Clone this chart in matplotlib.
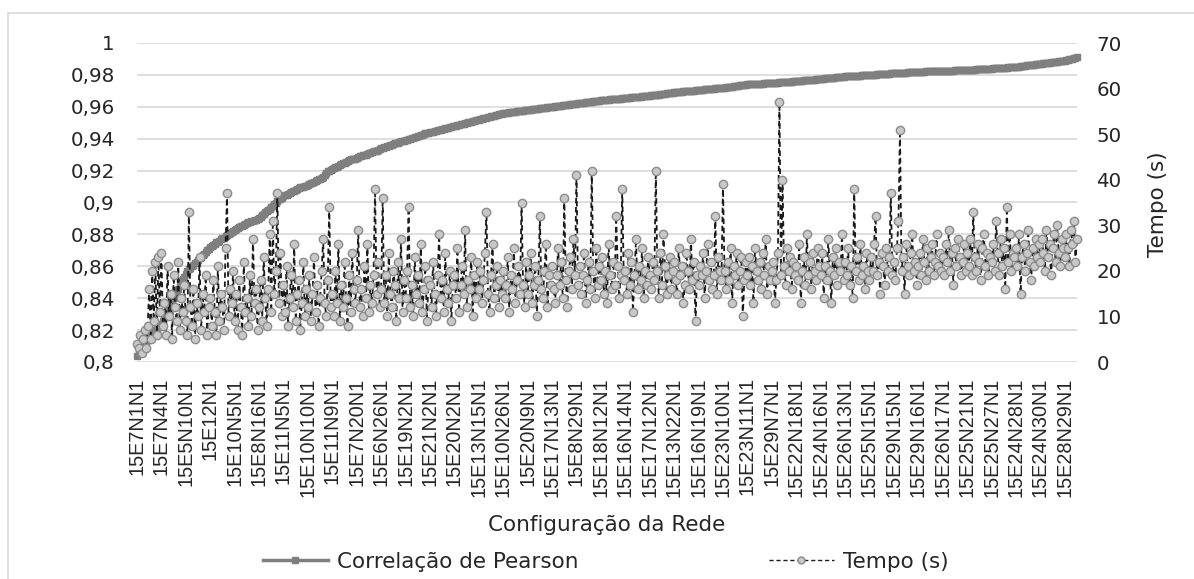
import numpy as np
import matplotlib.pyplot as plt
from matplotlib.ticker import FuncFormatter
from matplotlib.lines import Line2D
from matplotlib.patches import Rectangle

plt.rcParams["font.family"] = ["DejaVu Sans"]

# rótulos visíveis no eixo x (um a cada 16 configurações)
tick_labels = [
    "15E7N1N1", "15E7N4N1", "15E5N10N1", "15E12N1", "15E10N5N1", "15E8N16N1",
    "15E11N5N1", "15E10N10N1", "15E11N9N1", "15E7N20N1", "15E6N26N1", "15E19N2N1",
    "15E21N2N1", "15E20N2N1", "15E13N15N1", "15E10N26N1", "15E20N9N1", "15E17N13N1",
    "15E8N29N1", "15E18N12N1", "15E16N14N1", "15E17N12N1", "15E13N22N1", "15E16N19N1",
    "15E23N10N1", "15E23N11N1", "15E29N7N1", "15E22N18N1", "15E24N16N1", "15E26N13N1",
    "15E25N15N1", "15E29N15N1", "15E29N16N1", "15E26N17N1", "15E25N21N1", "15E25N27N1",
    "15E24N28N1", "15E24N30N1", "15E28N29N1",
]
label_step = 16

pearson = [
    0.804, 0.8055, 0.807, 0.808, 0.809, 0.8105, 0.812, 0.8135, 0.815, 0.8165, 0.818, 0.819, 0.820, 0.821, 0.822, 0.823,
    0.824, 0.826, 0.828, 0.830, 0.832, 0.834, 0.836, 0.838, 0.840, 0.842, 0.844, 0.846, 0.848, 0.850, 0.852, 0.853,
    0.855, 0.857, 0.858, 0.859, 0.860, 0.861, 0.862, 0.863, 0.864, 0.865, 0.866, 0.867, 0.868, 0.869, 0.870, 0.871,
    0.872, 0.873, 0.8735, 0.874, 0.875, 0.8755, 0.876, 0.877, 0.8775, 0.878, 0.879, 0.8795, 0.880, 0.881, 0.8815, 0.882,
    0.883, 0.8835, 0.884, 0.8845, 0.885, 0.8855, 0.886, 0.8865, 0.887, 0.8875, 0.888, 0.8885, 0.8885, 0.889, 0.889, 0.8895,
    0.890, 0.891, 0.892, 0.893, 0.894, 0.8945, 0.895, 0.896, 0.897, 0.898, 0.899, 0.900, 0.901, 0.902, 0.9025, 0.903,
    0.904, 0.9045, 0.905, 0.9055, 0.906, 0.9065, 0.907, 0.9075, 0.908, 0.9085, 0.909, 0.9095, 0.910, 0.910, 0.9105, 0.9105,
    0.911, 0.9115, 0.912, 0.9125, 0.913, 0.9135, 0.914, 0.9145, 0.915, 0.9155, 0.916, 0.917, 0.9185, 0.9195, 0.920, 0.9205,
    0.921, 0.9215, 0.922, 0.9225, 0.923, 0.9235, 0.924, 0.9245, 0.925, 0.9255, 0.926, 0.9265, 0.927, 0.927, 0.9275, 0.9275,
    0.928, 0.9285, 0.929, 0.929, 0.9295, 0.930, 0.930, 0.9305, 0.931, 0.931, 0.9315, 0.932, 0.932, 0.9325, 0.933, 0.9335,
    0.934, 0.9343, 0.9346, 0.935, 0.9353, 0.9356, 0.936, 0.9363, 0.9366, 0.937, 0.9373, 0.9376, 0.938, 0.9383, 0.9386, 0.9388,
    0.939, 0.9393, 0.9396, 0.940, 0.9403, 0.9406, 0.941, 0.9413, 0.9416, 0.942, 0.9423, 0.9426, 0.943, 0.9433, 0.9436, 0.9438,
    0.944, 0.9442, 0.9445, 0.9447, 0.945, 0.9452, 0.9455, 0.9457, 0.946, 0.9462, 0.9465, 0.9467, 0.947, 0.9472, 0.9475, 0.9477,
    0.948, 0.9482, 0.9485, 0.9487, 0.949, 0.9492, 0.9495, 0.9497, 0.950, 0.9502, 0.9505, 0.9507, 0.951, 0.9512, 0.9515, 0.9517,
    0.952, 0.9522, 0.9525, 0.9527, 0.953, 0.9532, 0.9535, 0.9537, 0.954, 0.9542, 0.9545, 0.9547, 0.955, 0.9552, 0.9555, 0.9557,
    0.956, 0.9561, 0.9562, 0.9564, 0.9565, 0.9566, 0.9567, 0.9569, 0.957, 0.9571, 0.9572, 0.9574, 0.9575, 0.9576, 0.9577, 0.9579,
    0.958, 0.9581, 0.9582, 0.9584, 0.9585, 0.9586, 0.9587, 0.9589, 0.959, 0.9591, 0.9592, 0.9594, 0.9595, 0.9596, 0.9597, 0.9599,
    0.960, 0.9601, 0.9602, 0.9604, 0.9605, 0.9606, 0.9607, 0.9609, 0.961, 0.9611, 0.9612, 0.9614, 0.9615, 0.9616, 0.9617, 0.9619,
    0.962, 0.9621, 0.9622, 0.9624, 0.9625, 0.9626, 0.9627, 0.9629, 0.963, 0.9631, 0.9632, 0.9634, 0.9635, 0.9636, 0.9637, 0.9639,
    0.964, 0.9641, 0.9642, 0.9643, 0.9644, 0.9645, 0.9646, 0.9646, 0.9647, 0.9648, 0.9649, 0.965, 0.9651, 0.9652, 0.9653, 0.9654,
    0.9655, 0.9656, 0.9657, 0.9658, 0.9659, 0.966, 0.9661, 0.9661, 0.9662, 0.9663, 0.9664, 0.9665, 0.9666, 0.9667, 0.9668, 0.9669,
    0.967, 0.9671, 0.9672, 0.9674, 0.9675, 0.9676, 0.9677, 0.9679, 0.968, 0.9681, 0.9682, 0.9684, 0.9685, 0.9686, 0.9687, 0.9689,
    0.969, 0.9691, 0.9692, 0.9693, 0.9694, 0.9695, 0.9696, 0.9696, 0.9697, 0.9698, 0.9699, 0.970, 0.9701, 0.9702, 0.9703, 0.9704,
    0.9705, 0.9706, 0.9707, 0.9708, 0.9709, 0.971, 0.9711, 0.9711, 0.9712, 0.9713, 0.9714, 0.9715, 0.9716, 0.9717, 0.9718, 0.9719,
    0.972, 0.9721, 0.9722, 0.9724, 0.9725, 0.9726, 0.9727, 0.9729, 0.973, 0.9731, 0.9732, 0.9734, 0.9735, 0.9736, 0.9737, 0.9739,
    0.974, 0.9741, 0.9741, 0.9742, 0.9742, 0.9743, 0.9744, 0.9744, 0.9745, 0.9746, 0.9746, 0.9747, 0.9747, 0.9748, 0.9749, 0.9749,
    0.975, 0.9751, 0.9751, 0.9752, 0.9752, 0.9753, 0.9754, 0.9754, 0.9755, 0.9756, 0.9756, 0.9757, 0.9757, 0.9758, 0.9759, 0.9759,
    0.976, 0.9761, 0.9762, 0.9763, 0.9764, 0.9765, 0.9766, 0.9766, 0.9767, 0.9768, 0.9769, 0.977, 0.9771, 0.9772, 0.9773, 0.9774,
    0.9775, 0.9776, 0.9777, 0.9778, 0.9779, 0.978, 0.9781, 0.9781, 0.9782, 0.9783, 0.9784, 0.9785, 0.9786, 0.9787, 0.9788, 0.9789,
    0.979, 0.9791, 0.9791, 0.9792, 0.9792, 0.9793, 0.9794, 0.9794, 0.9795, 0.9796, 0.9796, 0.9797, 0.9797, 0.9798, 0.9799, 0.9799,
    0.980, 0.9801, 0.9801, 0.9802, 0.9802, 0.9803, 0.9804, 0.9804, 0.9805, 0.9806, 0.9806, 0.9807, 0.9807, 0.9808, 0.9809, 0.9809,
    0.981, 0.9811, 0.9811, 0.9812, 0.9812, 0.9813, 0.9814, 0.9814, 0.9815, 0.9816, 0.9816, 0.9817, 0.9817, 0.9818, 0.9819, 0.9819,
    0.982, 0.982, 0.9821, 0.9821, 0.9821, 0.9822, 0.9822, 0.9822, 0.9823, 0.9823, 0.9823, 0.9824, 0.9824, 0.9824, 0.9824, 0.9825,
    0.9825, 0.9825, 0.9826, 0.9826, 0.9826, 0.9827, 0.9827, 0.9827, 0.9828, 0.9828, 0.9828, 0.9829, 0.9829, 0.9829, 0.9829, 0.983,
    0.983, 0.9831, 0.9831, 0.9832, 0.9832, 0.9833, 0.9834, 0.9834, 0.9835, 0.9836, 0.9836, 0.9837, 0.9837, 0.9838, 0.9839, 0.9839,
    0.984, 0.9841, 0.9841, 0.9842, 0.9842, 0.9843, 0.9844, 0.9844, 0.9845, 0.9846, 0.9846, 0.9847, 0.9847, 0.9848, 0.9849, 0.9849,
    0.985, 0.9851, 0.9852, 0.9854, 0.9855, 0.9856, 0.9857, 0.9859, 0.986, 0.9861, 0.9862, 0.9864, 0.9865, 0.9866, 0.9867, 0.9869,
    0.987, 0.9871, 0.9872, 0.9874, 0.9875, 0.9876, 0.9877, 0.9879, 0.988, 0.9881, 0.9882, 0.9884, 0.9885, 0.9886, 0.9887, 0.9889,
    0.989, 0.9892, 0.9895, 0.9897, 0.990, 0.9902, 0.9905, 0.9907, 0.991,
]

tempo = [
    4, 3, 6, 2, 5, 7, 3, 8, 16, 5, 20, 9, 22, 6, 23, 11,
    24, 8, 13, 6, 21, 10, 15, 5, 19, 12, 9, 22, 7, 14, 11, 17,
    9, 6, 33, 12, 8, 16, 5, 13, 10, 23, 7, 15, 11, 19, 6, 12,
    14, 8, 18, 11, 6, 21, 9, 15, 12, 7, 25, 37, 10, 16, 13, 20,
    9, 15, 7, 18, 12, 6, 22, 11, 14, 8, 19, 10, 27, 13, 16, 7,
    12, 18, 9, 23, 14, 8, 16, 28, 11, 31, 15, 20, 37, 13, 24, 10,
    17, 11, 21, 8, 14, 19, 12, 26, 9, 15, 18, 7, 13, 22, 10, 16,
    12, 19, 9, 15, 23, 11, 17, 8, 14, 20, 27, 13, 10, 18, 34, 12,
    15, 10, 20, 13, 26, 9, 17, 12, 22, 14, 8, 19, 11, 24, 16, 13,
    18, 29, 12, 16, 10, 21, 14, 26, 11, 17, 13, 19, 38, 15, 22, 12,
    16, 36, 13, 19, 10, 24, 15, 12, 20, 17, 9, 22, 14, 27, 11, 18,
    14, 20, 34, 12, 17, 10, 23, 15, 19, 13, 26, 11, 16, 21, 9, 18,
    17, 12, 22, 15, 10, 19, 28, 14, 18, 11, 24, 16, 13, 20, 9, 17,
    19, 14, 25, 11, 17, 21, 15, 29, 12, 18, 16, 23, 10, 19, 14, 22,
    16, 20, 13, 18, 24, 33, 15, 11, 19, 26, 14, 17, 21, 12, 18, 15,
    20, 14, 17, 23, 11, 19, 16, 25, 13, 18, 21, 15, 35, 17, 12, 22,
    15, 19, 24, 13, 17, 21, 10, 18, 32, 16, 14, 20, 26, 12, 19, 17,
    21, 16, 13, 19, 25, 17, 22, 14, 36, 18, 12, 20, 23, 16, 27, 19,
    41, 17, 21, 15, 19, 24, 13, 18, 22, 16, 42, 20, 14, 25, 17, 21,
    18, 23, 15, 20, 13, 26, 19, 16, 22, 17, 32, 21, 14, 19, 38, 18,
    20, 15, 24, 17, 22, 11, 19, 27, 16, 21, 18, 25, 14, 20, 17, 23,
    19, 16, 22, 18, 42, 20, 14, 24, 17, 28, 21, 15, 19, 23, 16, 20,
    22, 18, 15, 25, 19, 21, 13, 17, 24, 20, 16, 27, 18, 22, 9, 19,
    17, 21, 19, 24, 14, 20, 26, 18, 22, 16, 19, 32, 15, 23, 20, 18,
    39, 20, 16, 22, 18, 25, 13, 21, 19, 24, 17, 20, 23, 10, 18, 22,
    19, 23, 17, 21, 13, 25, 20, 18, 22, 16, 24, 19, 27, 15, 21, 18,
    20, 22, 13, 18, 24, 57, 19, 40, 21, 17, 25, 20, 23, 16, 22, 19,
    21, 18, 26, 13, 20, 23, 17, 28, 19, 22, 16, 24, 20, 18, 25, 21,
    19, 24, 14, 21, 18, 27, 20, 13, 23, 19, 25, 17, 22, 20, 28, 18,
    22, 19, 25, 17, 21, 14, 38, 20, 23, 18, 26, 19, 21, 16, 24, 20,
    18, 23, 20, 26, 32, 19, 22, 15, 24, 21, 17, 25, 20, 23, 37, 19,
    22, 18, 25, 31, 51, 20, 23, 15, 26, 21, 19, 24, 28, 20, 22, 17,
    21, 24, 19, 27, 22, 18, 25, 20, 23, 26, 19, 22, 28, 21, 24, 20,
    23, 19, 26, 22, 29, 20, 24, 17, 25, 21, 27, 23, 19, 22, 26, 20,
    24, 21, 27, 19, 33, 23, 20, 26, 22, 18, 25, 28, 21, 24, 19, 23,
    22, 26, 20, 31, 24, 19, 27, 21, 25, 16, 34, 22, 28, 20, 24, 23,
    25, 21, 28, 15, 23, 26, 20, 24, 29, 22, 18, 25, 21, 27, 23, 26,
    22, 27, 24, 20, 29, 23, 26, 19, 25, 28, 22, 30, 24, 21, 27, 25,
    23, 28, 25, 21, 29, 26, 31, 22, 27,
]

W, H = 1194, 579
text_color = "#262626"
grid_color = "#d9d9d9"
pearson_color = "#7f7f7f"
tick_fs = 14.3
label_fs = 15.5

x_p = np.arange(len(pearson))
x_t = np.arange(len(tempo))
n = max(len(pearson), len(tempo))

fig = plt.figure(figsize=(W / 100, H / 100), dpi=100)
fig.patches.append(Rectangle((8 / W, -0.05), 1.0, 1 - 13 / H + 0.05,
                             transform=fig.transFigure, fill=False,
                             edgecolor=grid_color, lw=1.2))

ax = fig.add_axes([137 / W, 1 - 362 / H, 940 / W, 319 / H])
ax2 = ax.twinx()

ax.plot(x_p, pearson, color=pearson_color, lw=3, marker="s", ms=4.5,
        mec=pearson_color, mfc=pearson_color, clip_on=False, zorder=3)
ax2.plot(x_t, tempo, color="#1a1a1a", lw=1.3, ls=(0, (3, 2)), marker="o", ms=6,
         mfc="#c8c8c8", mec="#8c8c8c", mew=1, clip_on=False)

ax.set_xlim(0, n - 1)
ax.set_ylim(0.8, 1.0)
ax.set_yticks(np.arange(0.8, 1.0001, 0.02))
ax.yaxis.set_major_formatter(FuncFormatter(lambda v, p: f"{round(v, 2):g}".replace(".", ",")))
ax.grid(axis="y", color=grid_color, lw=1.2)
ax.set_axisbelow(True)

ax2.set_ylim(0, 70)
ax2.set_yticks(np.arange(0, 71, 10))

ticks = np.arange(0, n, label_step)[:len(tick_labels)]
ax.set_xticks(ticks)
ax.set_xticklabels(tick_labels[:len(ticks)], rotation=90,
                   fontfamily=["Liberation Sans", "DejaVu Sans"])

for a in (ax, ax2):
    for s in a.spines.values():
        s.set_visible(False)
ax.tick_params(axis="both", length=0, labelsize=tick_fs, labelcolor=text_color)
ax.tick_params(axis="x", pad=11)
ax.tick_params(axis="y", pad=16)
ax2.tick_params(axis="y", length=0, labelsize=tick_fs, labelcolor=text_color, pad=14)

# títulos dos eixos
fig.text(1158 / W, 1 - 204 / H, "Tempo (s)", rotation=90, ha="center", va="center",
         fontsize=label_fs, color=text_color)
fig.text(607 / W, 1 - 525 / H, "Configuração da Rede", ha="center", va="center",
         fontsize=label_fs, color=text_color)

h1 = Line2D([], [], color=pearson_color, lw=2.5, marker="s", ms=4)
h2 = Line2D([], [], color="#1a1a1a", lw=1.0, ls=(0, (3, 2)), marker="o", ms=5,
            mfc="#c8c8c8", mec="#8c8c8c", mew=1)
fig.legend([h1], ["Correlação de Pearson"], loc="center left",
           bbox_to_anchor=(263 / W, 1 - 562 / H), frameon=False,
           handlelength=3.0, handletextpad=0.45, fontsize=label_fs,
           borderpad=0, borderaxespad=0, labelcolor=text_color)
fig.legend([h2], ["Tempo (s)"], loc="center left",
           bbox_to_anchor=(769 / W, 1 - 562 / H), frameon=False,
           handlelength=3.0, handletextpad=0.45, fontsize=label_fs,
           borderpad=0, borderaxespad=0, labelcolor=text_color)

fig.savefig("out.png", dpi=100)
